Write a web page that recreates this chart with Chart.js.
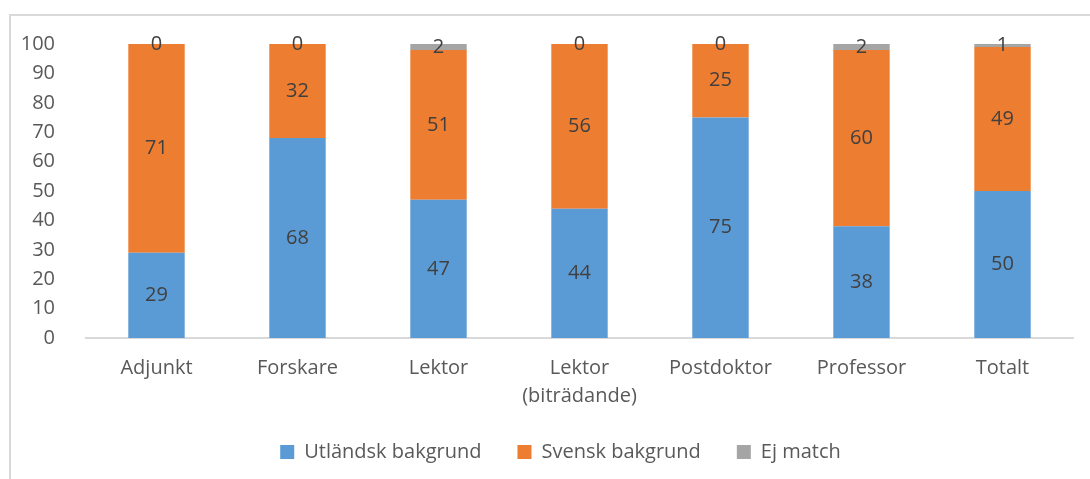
<!DOCTYPE html>
<html>
<head>
<meta charset="utf-8">
<script src="https://cdn.jsdelivr.net/npm/chart.js@4/dist/chart.umd.min.js"></script>
<style>
  html, body { margin: 0; padding: 0; background: #fff; overflow: hidden; }
  #wrap { position: relative; width: 1090px; height: 479px; }
  #frame { position: absolute; left: 9px; top: 14px; width: 1200px; height: 600px;
           border-top: 2px solid #d9d9d9; border-left: 2px solid #d9d9d9; }
  canvas { position: absolute; left: 0; top: 0; }
</style>
</head>
<body>
<div id="wrap">
  <div id="frame"></div>
  <canvas id="chart" width="1090" height="479"></canvas>
</div>
<script>
const categories = ["Adjunkt", "Forskare", "Lektor", ["Lektor", "(biträdande)"], "Postdoktor", "Professor", "Totalt"]
const utlandsk = [29, 68, 47, 44, 75, 38, 50]
const svensk = [71, 32, 51, 56, 25, 60, 49]
const ejMatch = [0, 0, 2, 0, 0, 2, 1]

const fontFamily = "'Open Sans', sans-serif"

// draws the value in the middle of each stacked segment
const valueLabels = {
  id: "valueLabels",
  afterDatasetsDraw(chart) {
    const ctx = chart.ctx
    ctx.save()
    ctx.font = "20px " + fontFamily
    ctx.fillStyle = "#404040"
    ctx.textAlign = "center"
    ctx.textBaseline = "middle"
    chart.data.datasets.forEach((ds, i) => {
      chart.getDatasetMeta(i).data.forEach((bar, j) => {
        const y = (bar.y + bar.base) / 2
        ctx.fillText(String(ds.data[j]), bar.x, y)
      })
    })
    ctx.restore()
  }
}

// nudge the legend: wide item spacing but sitting close under the axis labels
const legendNudge = {
  id: "legendNudge",
  afterLayout(chart) {
    const lg = chart.legend
    const h = lg.bottom - lg.top
    lg.top = 406
    lg.bottom = 406 + h
    lg.left += 24
    lg.right += 24
  }
}

new Chart(document.getElementById("chart"), {
  type: "bar",
  data: {
    labels: categories,
    datasets: [
      { label: "Utländsk bakgrund", data: utlandsk, backgroundColor: "#5b9bd5" },
      { label: "Svensk bakgrund", data: svensk, backgroundColor: "#ed7d31" },
      { label: "Ej match", data: ejMatch, backgroundColor: "#a5a5a5" }
    ]
  },
  options: {
    responsive: false,
    animation: false,
    layout: { padding: { top: 44, right: 17, bottom: 1, left: 0 } },
    datasets: { bar: { barPercentage: 0.4, categoryPercentage: 1.0 } },
    scales: {
      x: {
        stacked: true,
        grid: { display: false },
        border: { display: true, color: "#d9d9d9", width: 2 },
        ticks: { color: "#595959", font: { family: fontFamily, size: 20, lineHeight: 1.4 }, padding: 8, maxRotation: 0 },
        afterFit: (scale) => { scale.height = 74 }
      },
      y: {
        stacked: true,
        min: 0,
        max: 100,
        grid: { display: false },
        border: { display: false },
        ticks: { stepSize: 10, color: "#595959", font: { family: fontFamily, size: 20 }, padding: 23 },
        afterFit: (scale) => { scale.width = 86 }
      }
    },
    plugins: {
      legend: {
        position: "bottom",
        labels: {
          boxWidth: 14,
          boxHeight: 14,
          padding: 36,
          color: "#595959",
          font: { family: fontFamily, size: 20 }
        }
      },
      tooltip: { enabled: false }
    }
  },
  plugins: [valueLabels, legendNudge]
})
</script>
</body>
</html>
